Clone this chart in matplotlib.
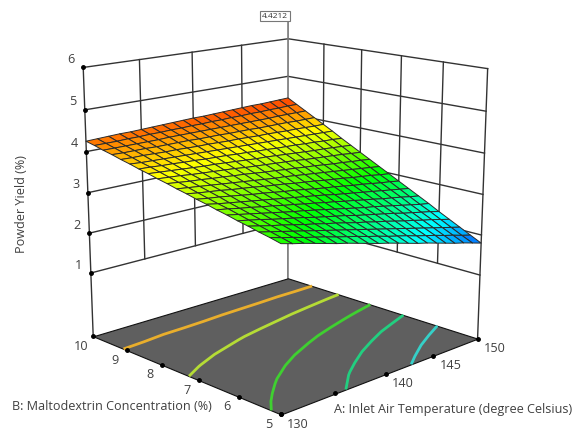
import numpy as np
import matplotlib
matplotlib.use('Agg')
import matplotlib.pyplot as plt
from matplotlib.colors import LinearSegmentedColormap, Normalize
from mpl_toolkits.mplot3d import proj3d

plt.rcParams['font.family'] = ['Open Sans', 'DejaVu Sans']

# response surface, rows go with B, columns with A
temp = [130, 131, 132, 133, 134, 135, 136, 137, 138, 139, 140,
        141, 142, 143, 144, 145, 146, 147, 148, 149, 150]
malto = [5, 5.25, 5.5, 5.75, 6, 6.25, 6.5, 6.75, 7, 7.25, 7.5,
         7.75, 8, 8.25, 8.5, 8.75, 9, 9.25, 9.5, 9.75, 10]
yield_pct = [
    [3.15,3.08,3.02,2.95,2.88,2.81,2.75,2.68,2.61,2.54,2.48,2.41,2.34,2.27,2.21,2.14,2.07,2.00,1.94,1.87,1.80],
    [3.21,3.14,3.08,3.01,2.95,2.89,2.82,2.76,2.70,2.63,2.57,2.50,2.44,2.38,2.31,2.25,2.19,2.12,2.06,1.99,1.93],
    [3.26,3.20,3.14,3.08,3.02,2.96,2.90,2.84,2.78,2.72,2.66,2.60,2.54,2.48,2.42,2.36,2.30,2.24,2.18,2.12,2.06],
    [3.32,3.26,3.20,3.15,3.09,3.03,2.98,2.92,2.87,2.81,2.75,2.70,2.64,2.59,2.53,2.47,2.42,2.36,2.31,2.25,2.19],
    [3.37,3.32,3.27,3.21,3.16,3.11,3.06,3.00,2.95,2.90,2.85,2.79,2.74,2.69,2.64,2.59,2.53,2.48,2.43,2.38,2.32],
    [3.43,3.38,3.33,3.28,3.23,3.18,3.13,3.09,3.04,2.99,2.94,2.89,2.84,2.79,2.75,2.70,2.65,2.60,2.55,2.50,2.46],
    [3.48,3.44,3.39,3.35,3.30,3.26,3.21,3.17,3.12,3.08,3.03,2.99,2.94,2.90,2.85,2.81,2.76,2.72,2.68,2.63,2.59],
    [3.54,3.49,3.45,3.41,3.37,3.33,3.29,3.25,3.21,3.17,3.13,3.09,3.04,3.00,2.96,2.92,2.88,2.84,2.80,2.76,2.72],
    [3.59,3.55,3.52,3.48,3.44,3.40,3.37,3.33,3.29,3.26,3.22,3.18,3.14,3.11,3.07,3.03,3.00,2.96,2.92,2.89,2.85],
    [3.65,3.61,3.58,3.55,3.51,3.48,3.45,3.41,3.38,3.35,3.31,3.28,3.25,3.21,3.18,3.15,3.11,3.08,3.05,3.01,2.98],
    [3.70,3.67,3.64,3.61,3.58,3.55,3.52,3.49,3.46,3.43,3.41,3.38,3.35,3.32,3.29,3.26,3.23,3.20,3.17,3.14,3.11],
    [3.76,3.73,3.70,3.68,3.65,3.63,3.60,3.58,3.55,3.52,3.50,3.47,3.45,3.42,3.40,3.37,3.34,3.32,3.29,3.27,3.24],
    [3.81,3.79,3.77,3.74,3.72,3.70,3.68,3.66,3.63,3.61,3.59,3.57,3.55,3.53,3.50,3.48,3.46,3.44,3.42,3.39,3.37],
    [3.87,3.85,3.83,3.81,3.79,3.77,3.76,3.74,3.72,3.70,3.68,3.67,3.65,3.63,3.61,3.59,3.57,3.56,3.54,3.52,3.50],
    [3.92,3.91,3.89,3.88,3.86,3.85,3.83,3.82,3.81,3.79,3.78,3.76,3.75,3.73,3.72,3.71,3.69,3.68,3.66,3.65,3.63],
    [3.98,3.96,3.95,3.94,3.93,3.92,3.91,3.90,3.89,3.88,3.87,3.86,3.85,3.84,3.83,3.82,3.81,3.80,3.79,3.78,3.77],
    [4.03,4.02,4.02,4.01,4.00,4.00,3.99,3.98,3.98,3.97,3.96,3.96,3.95,3.94,3.94,3.93,3.92,3.92,3.91,3.90,3.90],
    [4.09,4.08,4.08,4.08,4.07,4.07,4.07,4.07,4.06,4.06,4.06,4.05,4.05,4.05,4.04,4.04,4.04,4.04,4.03,4.03,4.03],
    [4.14,4.14,4.14,4.14,4.14,4.14,4.15,4.15,4.15,4.15,4.15,4.15,4.15,4.15,4.15,4.15,4.15,4.16,4.16,4.16,4.16],
    [4.20,4.20,4.20,4.21,4.21,4.22,4.22,4.23,4.23,4.24,4.24,4.25,4.25,4.26,4.26,4.27,4.27,4.28,4.28,4.29,4.29],
    [4.25,4.26,4.27,4.28,4.28,4.29,4.30,4.31,4.32,4.33,4.34,4.34,4.35,4.36,4.37,4.38,4.39,4.39,4.40,4.41,4.42],
]
contour_levels = [2.3, 2.75, 3.2, 3.65, 4.05]
temp_ticks = [130, 135, 140, 145, 150]
temp_labels = ['130', '', '140', '145', '150']
malto_ticks = [5, 6, 7, 8, 9, 10]
yield_ticks = [1, 2, 3, 4, 5, 6]
flag_value = 4.4212

floor = -0.62
cmap = LinearSegmentedColormap.from_list(
    'rsm', ['#0000ff', '#00ffff', '#00ff00', '#ffff00', '#ff0000'])
norm = Normalize(1.5, 4.6)

fig = plt.figure(figsize=(5.72, 4.30), dpi=100)
ax = fig.add_axes([-0.012, 0.007, 1.0, 1.0], projection='3d', computed_zorder=False)
ax.set_proj_type('persp', focal_length=0.61)
ax.view_init(elev=15, azim=-134)
ax.set_box_aspect((1, 1, 1.0), zoom=1.09)
ax.set_xlim(130, 150)
ax.set_ylim(5, 10)
ax.set_zlim(floor, 6)
ax.set_axis_off()

wall = dict(color='#333333', lw=1.0, zorder=1)
tmin, tmax, mmin, mmax = temp[0], temp[-1], malto[0], malto[-1]

# back walls
for z in yield_ticks:
    ax.plot([tmin, tmax], [mmax, mmax], [z, z], **wall)
    ax.plot([tmax, tmax], [mmax, mmin], [z, z], **wall)
for t in temp_ticks[1:-1]:
    ax.plot([t, t], [mmax, mmax], [1, 6], **wall)
for m in malto_ticks[1:-1]:
    ax.plot([tmax, tmax], [m, m], [1, 6], **wall)
ax.plot([tmin, tmin], [mmax, mmax], [floor, 6], **wall)
ax.plot([tmax, tmax], [mmin, mmin], [floor, 6], **wall)
ax.plot([tmax, tmax], [mmax, mmax], [floor, 6], color='#777777', lw=1.2, zorder=1)

# floor with contours
fx, fy = np.meshgrid([tmin, tmax], [mmin, mmax])
ax.plot_surface(fx, fy, np.full(fx.shape, floor), color='#5f5f5f', shade=False,
                edgecolor='#111111', linewidth=0.8, zorder=2)
X, Y = np.meshgrid(temp, malto)
Z = np.array(yield_pct)
ax.contour(X[::2, ::2], Y[::2, ::2], Z[::2, ::2], levels=contour_levels, zdir='z', offset=floor,
           colors=['#35d0c8', '#22cf80', '#3fd030', '#b5dc35', '#e9ae2c'],
           linewidths=2, zorder=3)

# surface
ax.plot_surface(X, Y, Z, cmap=cmap, norm=norm, rstride=1, cstride=1, shade=False,
                edgecolor='#2a2a2a', linewidth=0.7, antialiased=True, zorder=4)

# ticks
ax.plot(temp_ticks, [mmin] * len(temp_ticks), [floor] * len(temp_ticks), 'o',
        color='black', ms=2.5, zorder=5)
ax.plot([tmin] * len(malto_ticks), malto_ticks, [floor] * len(malto_ticks), 'o',
        color='black', ms=2.5, zorder=5)
ax.plot([tmin] * len(yield_ticks), [mmax] * len(yield_ticks), yield_ticks, 'o',
        color='black', ms=2.5, zorder=5)


def tick_label(x, y, z, dx, dy, text, size=9.1):
    px, py, _ = proj3d.proj_transform(x, y, z, ax.get_proj())
    ax.annotate(text, (px, py), xytext=(dx, dy), textcoords='offset pixels',
                ha='center', va='center', fontsize=size, color='#404040', zorder=6)


for t, lab in zip(temp_ticks, temp_labels):
    if lab:
        tick_label(t, mmin, floor, 17, -10, lab)
for m in malto_ticks:
    tick_label(tmin, m, floor, -12, -10, str(m))
for z in yield_ticks:
    tick_label(tmin, mmax, z, -12, 8, str(z))

# flag on the design point
ax.plot([tmax, tmax], [mmax, mmax], [6, 6.5], color='#777777', lw=1.2, zorder=5)
px, py, _ = proj3d.proj_transform(tmax, mmax, 6.5, ax.get_proj())
ax.annotate(str(flag_value), (px, py), ha='right', va='bottom', fontsize=6, color='#333333',
            bbox=dict(boxstyle='square,pad=0.2', fc='white', ec='#777777', lw=0.8), zorder=6)

fig.text(12 / 572, 1 - 406 / 430, 'B: Maltodextrin Concentration (%)', ha='left', va='center',
         fontsize=9.1, color='#404040')
fig.text(334 / 572, 1 - 409 / 430, 'A: Inlet Air Temperature (degree Celsius)', ha='left', va='center',
         fontsize=9.1, color='#404040')
fig.text(22 / 572, 1 - 204 / 430, 'Powder Yield (%)', rotation=90, ha='center', va='center',
         fontsize=9.1, color='#404040')

fig.savefig('out.png', dpi=100)
